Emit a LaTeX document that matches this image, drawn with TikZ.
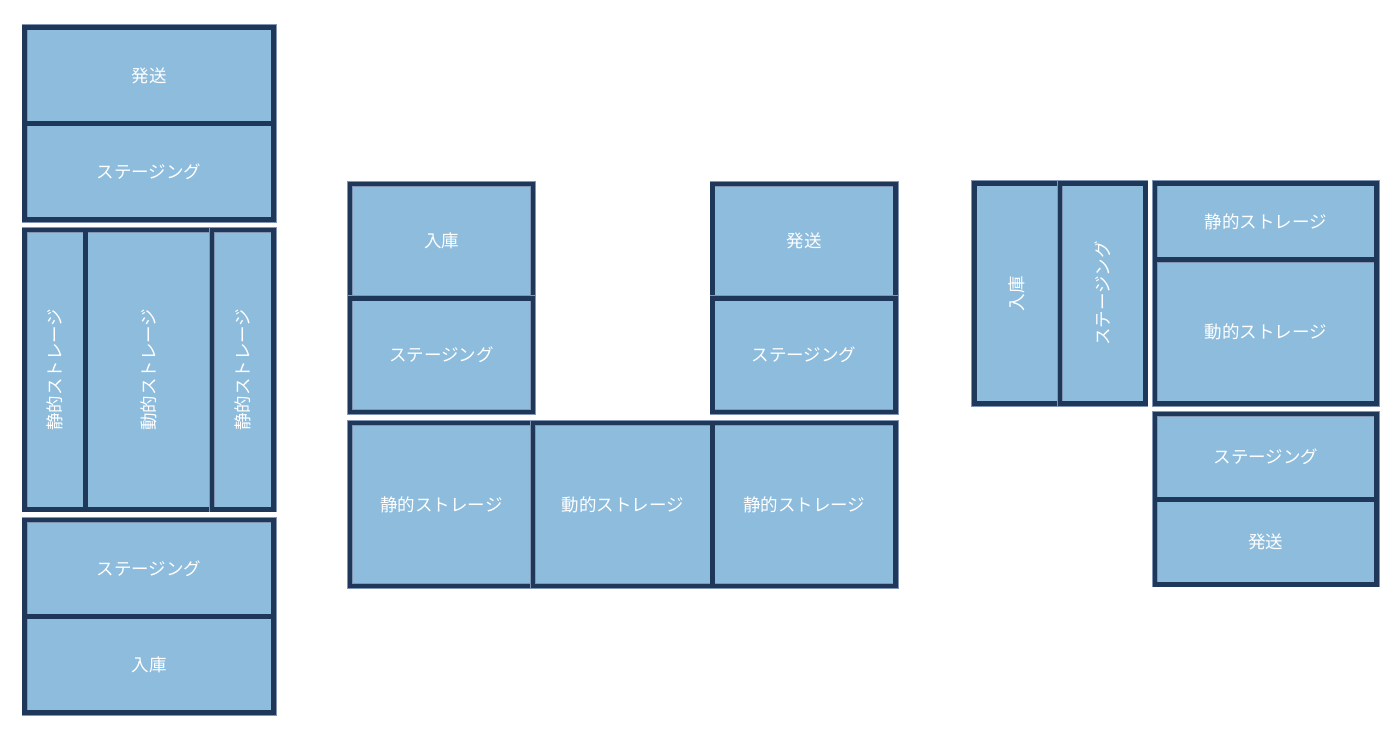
\documentclass[tikz,border=0pt]{standalone}
\usepackage{fontspec}
\newfontfamily\jpfont{Noto Sans CJK JP}
\newlength{\du}
\setlength{\du}{1pt}
\definecolor{cellfill}{RGB}{141,188,221}
\definecolor{framecolor}{RGB}{31,55,88}
\definecolor{rimcolor}{RGB}{128,150,180}
\tikzset{
  cell/.style={rectangle, inner sep=0pt, outer sep=0pt, fill=cellfill,
    draw=rimcolor, line width=0.6\du, double=framecolor, double distance=4.6\du,
    text=white, font=\jpfont\fontsize{17.5}{21}\selectfont}
}

\begin{document}
\begin{tikzpicture}
\pgftransformxscale{1.000000}
\pgftransformyscale{-1.000000}
\useasboundingbox (0\du,0\du) rectangle (1400\du,740\du);
% left column
\node[cell, minimum width=249.1\du, minimum height=96.2\du] (hassouA) at (149.15\du,75.4\du){発送};
\node[cell, minimum width=249.1\du, minimum height=96.2\du] (stagingA1) at (149.15\du,171.6\du){ステージング};
\node[cell, minimum width=60.9\du, minimum height=279.4\du] (seitekiA1) at (55.05\du,369.7\du){\rotatebox{90}{静的ストレージ}};
\node[cell, minimum width=126.5\du, minimum height=279.4\du] (doutekiA) at (148.75\du,369.7\du){\rotatebox{90}{動的ストレージ}};
\node[cell, minimum width=61.7\du, minimum height=279.4\du] (seitekiA2) at (242.85\du,369.7\du){\rotatebox{90}{静的ストレージ}};
\node[cell, minimum width=249.1\du, minimum height=96.5\du] (stagingA2) at (149.15\du,568.25\du){ステージング};
\node[cell, minimum width=249.1\du, minimum height=96.2\du] (nyukoA) at (149.15\du,664.6\du){入庫};
% middle, U shape
\node[cell, minimum width=183\du, minimum height=114.2\du] (nyukoB) at (441.5\du,241.1\du){入庫};
\node[cell, minimum width=183\du, minimum height=113.8\du] (stagingB1) at (441.5\du,355.1\du){ステージング};
\node[cell, minimum width=183.2\du, minimum height=114.2\du] (hassouB) at (804.1\du,241.1\du){発送};
\node[cell, minimum width=183.2\du, minimum height=113.8\du] (stagingB2) at (804.1\du,355.1\du){ステージング};
\node[cell, minimum width=183\du, minimum height=163\du] (seitekiB1) at (441.5\du,504.5\du){静的ストレージ};
\node[cell, minimum width=179.5\du, minimum height=163\du] (doutekiB) at (622.75\du,504.5\du){動的ストレージ};
\node[cell, minimum width=183.2\du, minimum height=163\du] (seitekiB2) at (804.1\du,504.5\du){静的ストレージ};
% right, L shape
\node[cell, minimum width=85.5\du, minimum height=220.4\du] (nyukoC) at (1017.05\du,293.5\du){\rotatebox{90}{入庫}};
\node[cell, minimum width=85.6\du, minimum height=220.4\du] (stagingC1) at (1102.6\du,293.5\du){\rotatebox{90}{ステージング}};
\node[cell, minimum width=221.7\du, minimum height=76.4\du] (seitekiC) at (1265.85\du,221.5\du){静的ストレージ};
\node[cell, minimum width=221.7\du, minimum height=144\du] (doutekiC) at (1265.85\du,331.7\du){動的ストレージ};
\node[cell, minimum width=221.7\du, minimum height=85.5\du] (stagingC2) at (1265.85\du,456.75\du){ステージング};
\node[cell, minimum width=221.7\du, minimum height=84.9\du] (hassouC) at (1265.85\du,541.95\du){発送};
\end{tikzpicture}
\end{document}
